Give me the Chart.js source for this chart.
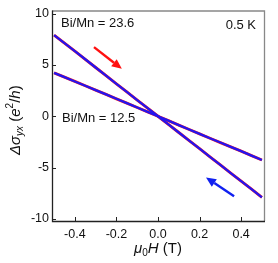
<!DOCTYPE html>
<html><head><meta charset="utf-8">
<script src="https://cdn.jsdelivr.net/npm/chart.js@4/dist/chart.umd.min.js"></script>
<style>html,body{margin:0;padding:0;background:#fff}#w{width:278px;height:263px}</style>
</head><body><div id="w"><canvas id="c"></canvas></div>
<script>
const fieldT = [-0.5,-0.45,-0.4,-0.35,-0.3,-0.25,-0.2,-0.15,-0.1,-0.05,0,0.05,0.1,0.15,0.2,0.25,0.3,0.35,0.4,0.45,0.5];
const sigma236 = [7.9,7.13,6.35,5.55,4.75,3.95,3.16,2.37,1.58,0.79,0,-0.79,-1.58,-2.37,-3.16,-3.95,-4.74,-5.53,-6.32,-7.1,-7.9];
const sigma125 = [4.23,3.81,3.39,2.97,2.55,2.13,1.70,1.28,0.85,0.43,0,-0.43,-0.86,-1.29,-1.72,-2.14,-2.56,-2.98,-3.40,-3.83,-4.26];
const xTicks = [-0.4,-0.2,0.0,0.2,0.4];
const yTicks = [-10,-5,0,5,10];
const labels = ["Bi/Mn = 23.6","Bi/Mn = 12.5","0.5 K"];
const redArrow = [[-0.308,6.73],[-0.174,4.62]];
const blueArrow = [[0.366,-7.79],[0.231,-5.96]];

const FONT = '"Liberation Sans", Arial, sans-serif';
const pts = a => fieldT.map((x,i)=>({x, y:a[i]}));

const deco = {
  id:'deco',
  afterDatasetsDraw(chart){
    const {ctx, chartArea:ca, scales:{x, y}} = chart;
    ctx.save();
    ctx.lineWidth = 1.3;
    ctx.strokeStyle = '#888';
    ctx.beginPath();
    ctx.moveTo(ca.left, ca.top+0.5); ctx.lineTo(ca.right+0.5, ca.top+0.5); ctx.lineTo(ca.right+0.5, ca.bottom);
    ctx.stroke();
    ctx.strokeStyle = '#222';
    ctx.beginPath();
    ctx.moveTo(ca.left+0.5, ca.top); ctx.lineTo(ca.left+0.5, ca.bottom+0.5); ctx.lineTo(ca.right+1, ca.bottom+0.5);
    ctx.stroke();
    ctx.lineWidth = 1;
    ctx.strokeStyle = '#222';
    xTicks.forEach(v=>{const px=Math.round(x.getPixelForValue(v))+0.5; ctx.beginPath(); ctx.moveTo(px, ca.bottom); ctx.lineTo(px, ca.bottom-4); ctx.stroke();});
    yTicks.forEach(v=>{const py=Math.round(y.getPixelForValue(v))+0.5; ctx.beginPath(); ctx.moveTo(ca.left, py); ctx.lineTo(ca.left+4, py); ctx.stroke();});
    const arrow=(a,col)=>{
      const x0=x.getPixelForValue(a[0][0]), y0=y.getPixelForValue(a[0][1]);
      const x1=x.getPixelForValue(a[1][0]), y1=y.getPixelForValue(a[1][1]);
      const ang=Math.atan2(y1-y0,x1-x0), L=10, W=4.5;
      const bx=x1-L*Math.cos(ang), by=y1-L*Math.sin(ang);
      ctx.strokeStyle=col; ctx.fillStyle=col; ctx.lineWidth=2.4;
      ctx.beginPath(); ctx.moveTo(x0,y0); ctx.lineTo(bx,by); ctx.stroke();
      ctx.beginPath(); ctx.moveTo(x1,y1);
      ctx.lineTo(bx+W*Math.sin(ang), by-W*Math.cos(ang));
      ctx.lineTo(bx-W*Math.sin(ang), by+W*Math.cos(ang));
      ctx.closePath(); ctx.fill();
    };
    arrow(redArrow,'#ff1010');
    arrow(blueArrow,'#1020f0');
    ctx.fillStyle='#111';
    ctx.font='13px '+FONT;
    ctx.textBaseline='alphabetic';
    ctx.textAlign='left';
    ctx.fillText(labels[0], 61, 27);
    ctx.fillText(labels[1], 62, 122);
    ctx.textAlign='right';
    ctx.fillText(labels[2], 256, 29);
    ctx.textAlign='left';
    let cx=134, by=253;
    ctx.font='italic 15px '+FONT; ctx.fillText('μ',cx,by); cx+=ctx.measureText('μ').width;
    ctx.font='10px '+FONT; ctx.fillText('0',cx,by+3); cx+=ctx.measureText('0').width;
    ctx.font='italic 15px '+FONT; ctx.fillText('H',cx,by); cx+=ctx.measureText('H').width;
    ctx.font='15px '+FONT; ctx.fillText(' (T)',cx,by);
    ctx.translate(20,155); ctx.rotate(-Math.PI/2);
    cx=0; by=0;
    ctx.font='italic 15px '+FONT; ctx.fillText('Δσ',cx,by); cx+=ctx.measureText('Δσ').width;
    ctx.font='italic 10px '+FONT; ctx.fillText('yx',cx,by+3); cx+=ctx.measureText('yx').width;
    ctx.font='15px '+FONT; ctx.fillText(' (',cx,by); cx+=ctx.measureText(' (').width;
    ctx.font='italic 15px '+FONT; ctx.fillText('e',cx,by); cx+=ctx.measureText('e').width;
    ctx.font='10px '+FONT; ctx.fillText('2',cx,by-7); cx+=ctx.measureText('2').width;
    ctx.font='15px '+FONT; ctx.fillText('/',cx,by); cx+=ctx.measureText('/').width;
    ctx.font='italic 15px '+FONT; ctx.fillText('h',cx,by); cx+=ctx.measureText('h').width;
    ctx.font='15px '+FONT; ctx.fillText(')',cx,by);
    ctx.restore();
  }
};

new Chart(document.getElementById('c'),{
  type:'line',
  data:{datasets:[
    {data:pts(sigma236), borderColor:'#2414ee', borderWidth:2.3, pointRadius:0, tension:0, order:0},
    {data:pts(sigma125), borderColor:'#2414ee', borderWidth:2.3, pointRadius:0, tension:0, order:0},
    {data:pts(sigma236), borderColor:'#ff2020', borderWidth:2.9, pointRadius:0, tension:0, order:1},
    {data:pts(sigma125), borderColor:'#ff2020', borderWidth:2.9, pointRadius:0, tension:0, order:1}
  ]},
  options:{
    responsive:true, maintainAspectRatio:false, animation:false,
    layout:{padding:{left:0,top:8,right:14,bottom:0}},
    plugins:{legend:{display:false}, tooltip:{enabled:false}},
    scales:{
      x:{type:'linear', min:-0.51, max:0.51,
        afterFit:s=>{s.height=42;},
        afterBuildTicks:s=>{s.ticks=xTicks.map(v=>({value:v}));},
        grid:{display:false, drawTicks:false}, border:{display:false},
        ticks:{padding:6, color:'#111', font:{family:FONT,size:12.5}, callback:v=>v.toFixed(1), maxRotation:0}},
      y:{type:'linear', min:-10.2, max:10.3,
        afterFit:s=>{s.width=52;},
        afterBuildTicks:s=>{s.ticks=yTicks.map(v=>({value:v}));},
        grid:{display:false, drawTicks:false}, border:{display:false},
        ticks:{padding:3, color:'#111', font:{family:FONT,size:12.5}}}
    }
  },
  plugins:[deco]
});
</script></body></html>
